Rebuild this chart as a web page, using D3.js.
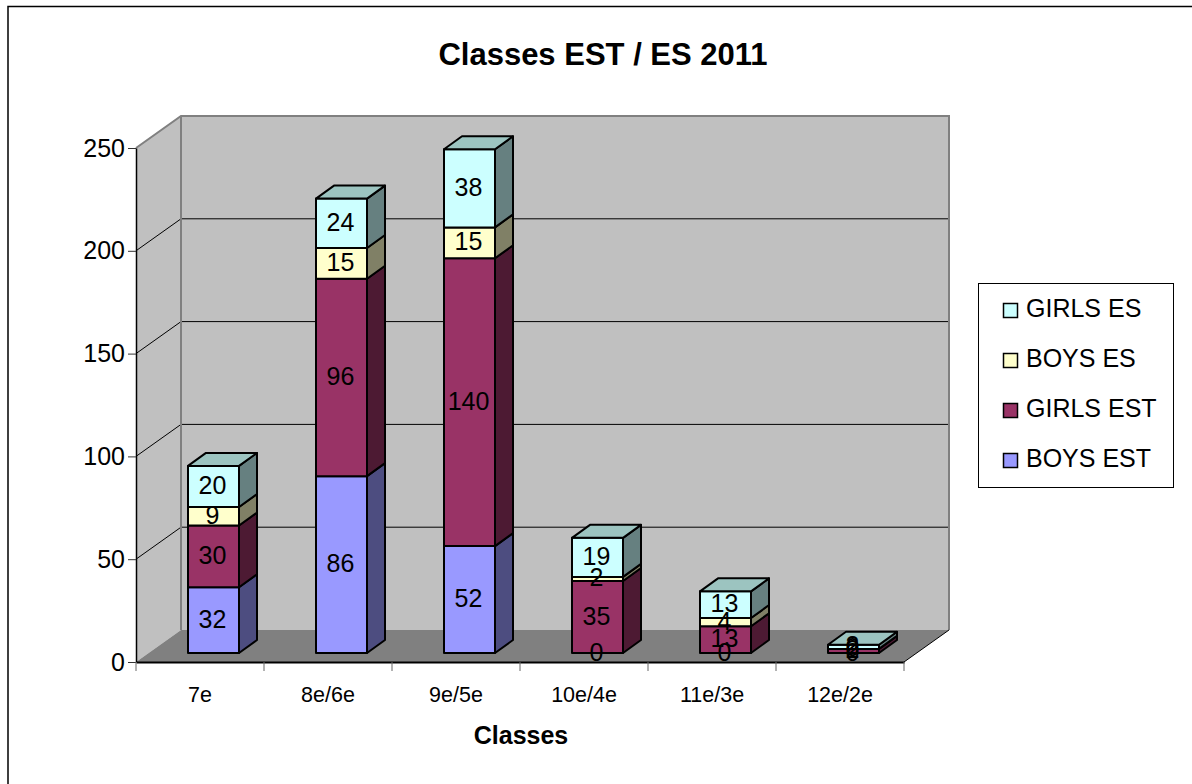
<!DOCTYPE html>
<html><head><meta charset="utf-8">
<script src="https://cdn.jsdelivr.net/npm/d3@7"></script>
<style>html,body{margin:0;padding:0;background:#fff}svg{display:block}text{font-family:"Liberation Sans",Arial,sans-serif;fill:#000}</style>
</head><body><svg id="c" width="1192" height="784"></svg>
<script>
const categories = ["7e","8e/6e","9e/5e","10e/4e","11e/3e","12e/2e"];
const seriesNames = ["BOYS EST","GIRLS EST","BOYS ES","GIRLS ES"];
const boysEst = [32,86,52,0,0,0];
const girlsEst = [30,96,140,35,13,2];
const boysEs = [9,15,15,2,4,0];
const girlsEs = [20,24,38,19,13,2];
const yTicks = [0,50,100,150,200,250];
const seriesColors = ["#9999ff","#993366","#ffffcc","#ccffff"];
const sideColors = ["#4d4d80","#4d1a33","#808066","#668080"];
const topColor = "#9cc4c0";
const seriesValues = [boysEst,girlsEst,boysEs,girlsEs];

const svg = d3.select("#c");
const x = d3.scaleBand().domain(categories).range([136,904]);
const y = d3.scaleLinear().domain([0,250]).range([662,148]);
const depthX = 45, depthY = -32;
const barW = 51, barDX = 18, barDY = -13, offX = 13.5, offY = -9;

// chart frame: only top and left edges are inside the picture
svg.append("path").attr("d","M1192,6.5H8V784").attr("fill","none").attr("stroke","#000").attr("stroke-width",1.5);
const poly = (pts,fill,stroke,sw)=>svg.append("polygon").attr("points",pts.map(p=>p.join(",")).join(" ")).attr("fill",fill).attr("stroke",stroke||"none").attr("stroke-width",sw||0).attr("stroke-linejoin","round");
const xL=136,xR=904,y0=y(0),yT=y(250);
poly([[xL,y0],[xL+depthX,y0+depthY],[xL+depthX,yT+depthY],[xL,yT]],"#c0c0c0");
poly([[xL+depthX,y0+depthY],[xR+depthX,y0+depthY],[xR+depthX,yT+depthY],[xL+depthX,yT+depthY]],"#c0c0c0");
poly([[xL,y0],[xR,y0],[xR+depthX,y0+depthY],[xL+depthX,y0+depthY]],"#808080");
// gridlines
yTicks.slice(1,-1).forEach(v=>{
  svg.append("path").attr("d",`M${xL},${y(v)}L${xL+depthX},${y(v)+depthY}L${xR+depthX},${y(v)+depthY}`).attr("fill","none").attr("stroke","#000");
});
// wall edges
svg.append("path").attr("d",`M${xL},${yT}L${xL+depthX},${yT+depthY}L${xR+depthX},${yT+depthY}L${xR+depthX},${y0+depthY}`).attr("fill","none").attr("stroke","#808080").attr("stroke-width",2);
svg.append("path").attr("d",`M${xL+depthX},${yT+depthY}V${y0+depthY}`).attr("stroke","#808080").attr("stroke-width",2);
svg.append("path").attr("d",`M${xR},${y0}L${xR+depthX},${y0+depthY}`).attr("stroke","#000");
// axes
const axY = d3.axisLeft(y).tickValues(yTicks).tickSize(8).tickPadding(3).tickSizeOuter(0);
const gy = svg.append("g").attr("transform",`translate(${xL},0)`).call(axY);
gy.selectAll("text").style("font-size","25px");
gy.selectAll(".tick line").attr("stroke","#333");
gy.select(".domain").attr("stroke","#000").attr("stroke-width",1.5);
const axX = d3.axisBottom(x).tickSize(0).tickPadding(25).tickSizeOuter(0);
const gx = svg.append("g").attr("transform",`translate(0,${y0})`).call(axX);
gx.selectAll("text").style("font-size","21.5px");
gx.select(".domain").attr("stroke","#000").attr("stroke-width",2);
d3.range(categories.length+1).forEach(i=>{
  const px = xL+i*x.step();
  svg.append("line").attr("x1",px).attr("x2",px).attr("y1",y0).attr("y2",y0+9).attr("stroke","#666");
});
// bars
const labels=[];
categories.forEach((c,i)=>{
  const left = x(c)+(x.step()-barW)/2+offX, right=left+barW;
  let cum=0;
  seriesValues.forEach((vals,s)=>{
    const v=vals[i];
    const b=y(cum)+offY, t=y(cum+v)+offY;
    if(v>0){
      poly([[left,b],[right,b],[right,t],[left,t]],seriesColors[s],"#000",2);
      poly([[right,b],[right+barDX,b+barDY],[right+barDX,t+barDY],[right,t]],sideColors[s],"#000",2);
    }
    labels.push({x:left+barW/2-1,y:(b+t)/2-1.5,v});
    cum+=v;
  });
  const t=y(cum)+offY;
  poly([[left,t],[right,t],[right+barDX,t+barDY],[left+barDX,t+barDY]],topColor,"#000",2);
});
labels.forEach(l=>svg.append("text").attr("x",l.x).attr("y",l.y).attr("dy","0.36em").attr("text-anchor","middle").style("font-size","25px").text(l.v));
// titles
svg.append("text").attr("x",603).attr("y",65).attr("text-anchor","middle").style("font-size","31px").style("font-weight","bold").text("Classes EST / ES 2011");
svg.append("text").attr("x",521).attr("y",744).attr("text-anchor","middle").style("font-size","25px").style("font-weight","bold").text("Classes");
// legend
svg.append("rect").attr("x",978.5).attr("y",283.5).attr("width",195).attr("height",204).attr("fill","#fff").attr("stroke","#000");
[3,2,1,0].forEach((s,i)=>{
  const cy=308+i*50;
  svg.append("rect").attr("x",1003.5).attr("y",cy-4.5).attr("width",14).attr("height",14).attr("fill",seriesColors[s]).attr("stroke","#000").attr("stroke-width",1.5);
  svg.append("text").attr("x",1026).attr("y",cy).attr("dy","0.36em").style("font-size","25px").text(seriesNames[s]);
});
</script></body></html>
